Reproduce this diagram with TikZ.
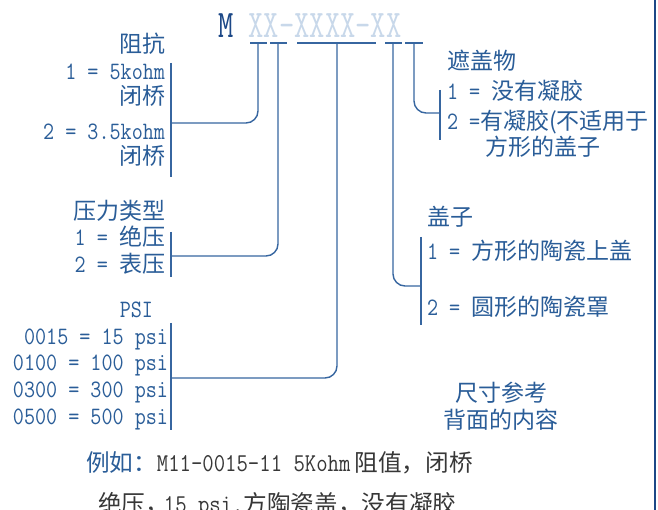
\documentclass[tikz,border=0pt]{standalone}
\usepackage{fontspec}
\newfontfamily\cjk{Noto Sans CJK SC}[Scale=0.92]
\newfontfamily\latmono{Latin Modern Mono}[FakeStretch=0.86]
\newfontfamily\titlemono{Latin Modern Mono}[FakeStretch=0.76]
\newcommand\zh[1]{{\cjk #1}}
\definecolor{txtblue}{RGB}{42,93,152}
\definecolor{lnblue}{RGB}{55,102,160}
\definecolor{darkblue}{RGB}{28,72,135}
\definecolor{lightx}{RGB}{200,216,234}
\definecolor{bodygray}{RGB}{55,55,55}
\tikzset{
  lbl/.style={inner sep=0pt, outer sep=0pt, text=txtblue, font=\fontsize{25}{28}\selectfont\latmono},
  lft/.style={lbl, anchor=base east},
  rgt/.style={lbl, anchor=base west},
  example/.style={rgt, text=bodygray, font=\fontsize{25.7}{28}\selectfont\latmono},
  wire/.style={draw=lnblue, line width=1.4pt, rounded corners=12pt},
  brk/.style={draw=lnblue, line width=1.4pt},
}
\begin{document}
\begin{tikzpicture}[x=1pt,y=-1pt]
\useasboundingbox (0,0) rectangle (658,510);
\fill[white] (0,0) rectangle (658,510);
% title
\node[anchor=base west, inner sep=0pt, font=\fontsize{39}{40}\selectfont\titlemono] (title) at (218,38)
  {\textcolor{darkblue}{M} \textcolor{lightx}{XX-XXXX-XX}};
% tick bars
\coordinate (a1) at (250,43); \coordinate (a2) at (267,43);
\coordinate (b1) at (270,43); \coordinate (b2) at (287,43);
\coordinate (c1) at (297,43); \coordinate (c2) at (376,43);
\coordinate (d1) at (385,43); \coordinate (d2) at (402,43);
\coordinate (e1) at (405,43); \coordinate (e2) at (423,43);
\draw[brk] (a1) -- (a2); \draw[brk] (b1) -- (b2); \draw[brk] (c1) -- (c2);
\draw[brk] (d1) -- (d2); \draw[brk] (e1) -- (e2);
\coordinate (ta) at (258,43); \coordinate (tb) at (278,43); \coordinate (tc) at (337,43);
\coordinate (td) at (393,43); \coordinate (te) at (414,43);
% brackets
\coordinate (L1t) at (171,63); \coordinate (L1b) at (171,177); \coordinate (L1m) at (171,123);
\coordinate (L2t) at (171,232); \coordinate (L2b) at (171,277); \coordinate (L2m) at (171,256);
\coordinate (L3t) at (171,323); \coordinate (L3b) at (171,430); \coordinate (L3m) at (171,378);
\coordinate (R1t) at (440,90); \coordinate (R1b) at (440,140); \coordinate (R1m) at (440,113);
\coordinate (R2t) at (421,237); \coordinate (R2b) at (421,325); \coordinate (R2m) at (421,286);
\draw[brk] (L1t) -- (L1b); \draw[brk] (L2t) -- (L2b); \draw[brk] (L3t) -- (L3b);
\draw[brk] (R1t) -- (R1b); \draw[brk] (R2t) -- (R2b);
\draw[wire] (ta) -- (ta |- L1m) -- (L1m);
\draw[wire] (tb) -- (tb |- L2m) -- (L2m);
\draw[wire] (tc) -- (tc |- L3m) -- (L3m);
\draw[wire] (te) -- (te |- R1m) -- (R1m);
\draw[wire] (td) -- (td |- R2m) -- (R2m);
% left labels
\node[lft] (n1) at (165,53) {\zh{阻抗}};
\node[lft] (n2) at (165,79.5) {1 = 5kohm};
\node[lft] (n3) at (165,105) {\zh{闭桥}};
\node[lft] (n4) at (165,139.5) {2 = 3.5kohm};
\node[lft] (n5) at (165,165) {\zh{闭桥}};
\node[lft] (n6) at (165,220) {\zh{压力类型}};
\node[lft] (n7) at (165,246) {1 = \zh{绝压}};
\node[lft] (n8) at (165,273) {2 = \zh{表压}};
\node[lft] (n9) at (153,317.5) {PSI};
\node[lft] (n10) at (168,344.5) {0015 = 15 psi};
\node[lft] (n11) at (168,370.5) {0100 = 100 psi};
\node[lft] (n12) at (168,397.5) {0300 = 300 psi};
\node[lft] (n13) at (168,424.5) {0500 = 500 psi};
% right labels
\node[rgt] (m1) at (447,70) {\zh{遮盖物}};
\node[rgt] (m2) at (447,100) {1 = \zh{没有凝胶}};
\begin{scope}
\clip (0,0) rectangle (654,510);
\node[rgt] (m3) at (447,130) {2 =\zh{有凝胶(不适用于}};
\end{scope}
\node[rgt] (m4) at (485,156) {\zh{方形的盖子}};
\node[rgt] (m5) at (427,226) {\zh{盖子}};
\node[rgt] (m6) at (427,260) {1 = \zh{方形的陶瓷上盖}};
\node[rgt] (m7) at (427,316) {2 = \zh{圆形的陶瓷罩}};
\node[lbl, anchor=base] (m8) at (501,401) {\zh{尺寸参考}};
\node[lbl, anchor=base] (m9) at (501,428) {\zh{背面的内容}};
% bottom example
\node[example] (ex1) at (86,471) {\textcolor{txtblue}{\zh{例如：}}M11-0015-11 5Kohm\kern4pt\zh{阻值，闭桥}};
\node[example] (ex2) at (98,512) {\zh{绝压，\kern-5pt}15 psi.\zh{方陶瓷盖，没有凝胶}};
% right border
\draw[draw=darkblue, line width=2.5pt] (655,0) -- (655,510);
\end{tikzpicture}
\end{document}
